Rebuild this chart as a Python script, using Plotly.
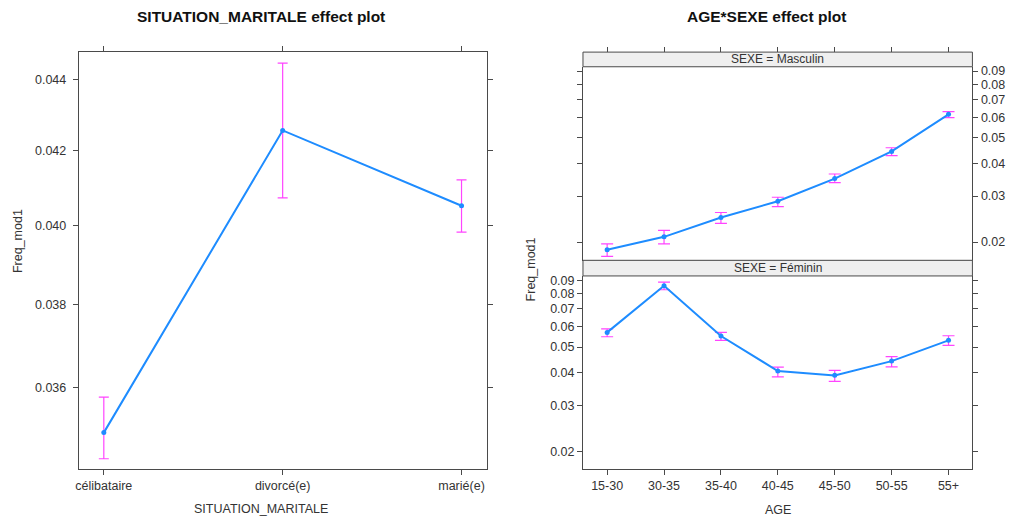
import plotly.graph_objects as go

# ---- data -------------------------------------------------------------
situation = ["célibataire", "divorcé(e)", "marié(e)"]
situation_fit = [0.03495, 0.04256, 0.04052]
situation_lower = [0.03436, 0.04073, 0.03983]
situation_upper = [0.03577, 0.04447, 0.04121]

ages = ["15-30", "30-35", "35-40", "40-45", "45-50", "50-55", "55+"]
masc_fit = [0.01870, 0.02095, 0.02484, 0.02865, 0.03496, 0.04439, 0.06152]
masc_lower = [0.01765, 0.01971, 0.02357, 0.02731, 0.03376, 0.04275, 0.05977]
masc_upper = [0.01971, 0.02216, 0.02595, 0.02967, 0.03640, 0.04585, 0.06299]
fem_fit = [0.05690, 0.08571, 0.05509, 0.04051, 0.03899, 0.04420, 0.05306]
fem_lower = [0.05476, 0.08278, 0.05306, 0.03845, 0.03700, 0.04205, 0.05080]
fem_upper = [0.05872, 0.08845, 0.05690, 0.04194, 0.04073, 0.04601, 0.05524]

left_ticks = [0.036, 0.038, 0.040, 0.042, 0.044]
right_ticks = [0.02, 0.03, 0.04, 0.05, 0.06, 0.07, 0.08, 0.09]

# ---- styling ----------------------------------------------------------
W, H = 1010, 521
LINE = "#1E8CFF"
CI = "#FF44FF"
AX = "#4a4a4a"
TXT = "#333333"
FONT = "Liberation Sans, Arial, sans-serif"
STRIP = "#efefef"


def px_x(p):
    return p / W


def px_y(p):
    return 1 - p / H


def err(fit, lo, up):
    return dict(type="data", symmetric=False,
                array=[u - f for u, f in zip(up, fit)],
                arrayminus=[f - l for f, l in zip(fit, lo)],
                color=CI, thickness=1.2)


fig = go.Figure()

# left panel
e = err(situation_fit, situation_lower, situation_upper)
e["width"] = 5
fig.add_trace(go.Scatter(x=situation, y=situation_fit, mode="lines+markers",
                         line=dict(color=LINE, width=2),
                         marker=dict(color=LINE, size=5, symbol="circle"),
                         error_y=e, xaxis="x", yaxis="y"))

# right panel, Masculin (upper)
e = err(masc_fit, masc_lower, masc_upper)
e["width"] = 6
fig.add_trace(go.Scatter(x=ages, y=masc_fit, mode="lines+markers",
                         line=dict(color=LINE, width=2),
                         marker=dict(color=LINE, size=5),
                         error_y=e, xaxis="x3", yaxis="y2"))

# right panel, Féminin (lower)
e = err(fem_fit, fem_lower, fem_upper)
e["width"] = 6
fig.add_trace(go.Scatter(x=ages, y=fem_fit, mode="lines+markers",
                         line=dict(color=LINE, width=2),
                         marker=dict(color=LINE, size=5),
                         error_y=e, xaxis="x2", yaxis="y3"))

# carrier for the top tick row above the strips
fig.add_trace(go.Scatter(x=ages, y=[None] * len(ages), mode="markers",
                         showlegend=False, hoverinfo="skip",
                         xaxis="x4", yaxis="y2"))

tickfont = dict(family=FONT, size=12.5, color=TXT)
common = dict(showgrid=False, zeroline=False, linecolor=AX, linewidth=1,
              ticks="outside", ticklen=5, tickcolor=AX, tickfont=tickfont)

# geometry (pixels)
L_X0, L_X1, L_Y0, L_Y1 = 76, 485, 50, 469
R_X0, R_X1 = 581.7, 972.3
S1_T, S1_B = 50.3, 65
S2_T, S2_B = 259.3, 275
R_BOT = 469.3

log_range = [-1.7684, -1.0294]

fig.update_layout(
    width=W, height=H,
    margin=dict(l=0, r=0, t=0, b=0),
    paper_bgcolor="white", plot_bgcolor="white",
    showlegend=False,
    xaxis=dict(domain=[px_x(L_X0), px_x(L_X1)], anchor="y",
               type="category", categoryarray=situation,
               range=[-0.14, 2.14], showline=True, mirror="ticks", **common),
    yaxis=dict(domain=[px_y(L_Y1), px_y(L_Y0)], anchor="x",
               type="log", range=[-1.46691, -1.34874],
               tickvals=left_ticks, tickformat=".3f", ticklabelstandoff=4,
               showline=True, mirror="ticks", **common),
    # lower right panel (Féminin)
    xaxis2=dict(domain=[px_x(R_X0), px_x(R_X1)], anchor="y3",
                type="category", categoryarray=ages,
                range=[-0.425, 6.42], showline=True, **common),
    yaxis3=dict(domain=[px_y(R_BOT), px_y(S2_B)], anchor="x2",
                type="log", range=log_range, side="left",
                tickvals=right_ticks, tickformat=".2f",
                showline=True, mirror="ticks", **common),
    # upper right panel (Masculin)
    xaxis3=dict(domain=[px_x(R_X0), px_x(R_X1)], anchor="y2",
                type="category", categoryarray=ages,
                range=[-0.425, 6.42], showline=True, showgrid=False,
                zeroline=False, linecolor=AX, linewidth=1,
                ticks="", showticklabels=False),
    yaxis2=dict(domain=[px_y(S2_T), px_y(S1_B)], anchor="x3",
                type="log", range=log_range, side="right",
                tickvals=right_ticks, tickformat=".2f",
                showline=True, mirror="ticks", **common),
    xaxis4=dict(overlaying="x3", anchor="free", position=px_y(S1_T),
                side="top", type="category", categoryarray=ages,
                range=[-0.425, 6.42], showline=False, showgrid=False,
                zeroline=False, ticks="outside", ticklen=5, tickcolor=AX,
                showticklabels=False),
)

# strips
for top, bot, label in [(S1_T, S1_B, "SEXE = Masculin"),
                        (S2_T, S2_B, "SEXE = Féminin")]:
    fig.add_shape(type="rect", xref="paper", yref="paper",
                  x0=px_x(R_X0), x1=px_x(R_X1), y0=px_y(bot), y1=px_y(top),
                  fillcolor=STRIP, line=dict(color=AX, width=1), layer="above")
    fig.add_annotation(text=label, xref="paper", yref="paper",
                       x=(px_x(R_X0) + px_x(R_X1)) / 2,
                       y=(px_y(bot) + px_y(top)) / 2,
                       showarrow=False, xanchor="center", yanchor="middle",
                       font=dict(family=FONT, size=12, color=TXT))

# titles and axis labels
ann = [
    ("<b>SITUATION_MARITALE effect plot</b>", 259, 15, 15.5, 0),
    ("<b>AGE*SEXE effect plot</b>", 766, 15, 15.5, 0),
    ("SITUATION_MARITALE", 259, 509, 12.5, 0),
    ("AGE", 777, 510, 12.5, 0),
    ("Freq_mod1", 15, 240, 12.5, -90),
    ("Freq_mod1", 530, 268, 12.5, -90),
]
for text, x, y, size, rot in ann:
    fig.add_annotation(text=text, xref="paper", yref="paper",
                       x=px_x(x), y=px_y(y), showarrow=False,
                       xanchor="center", yanchor="middle", textangle=rot,
                       font=dict(family=FONT, size=size,
                                 color="#111111" if size > 15 else TXT))

fig.write_html("out.html")
